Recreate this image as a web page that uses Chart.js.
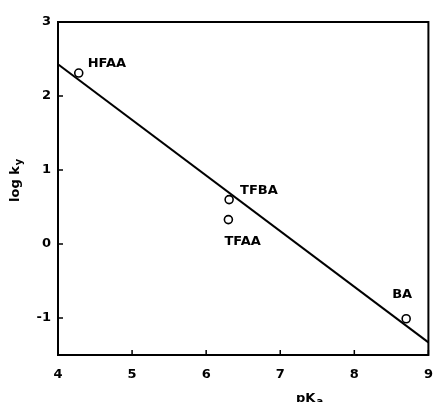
<!DOCTYPE html>
<html><head><meta charset="utf-8">
<script src="https://cdn.jsdelivr.net/npm/chart.js@4"></script>
<style>html,body{margin:0;padding:0;background:#fff}#wrap{width:434px;height:402px}</style>
</head><body><div id="wrap"><canvas id="c" width="434" height="402"></canvas></div>
<script>
const compounds = ['HFAA', 'TFBA', 'TFAA', 'BA'];
const pKa = [4.28, 6.31, 6.30, 8.70];
const logKy = [2.31, 0.60, 0.33, -1.01];
const fitX = [4, 9];
const fitY = [2.43, -1.33];
const xTicks = [4, 5, 6, 7, 8, 9];
const yTicks = [-1, 0, 1, 2, 3];
const labelOffsets = [[9, -9], [11, -9], [-4, 22], [-14, -24]];
const FONT = 'bold 13px "DejaVu Sans", sans-serif';

const framePlugin = {
  id: 'frame',
  afterDatasetsDraw(chart) {
    const {ctx, chartArea: a, scales: {x, y}} = chart;
    ctx.save();
    ctx.strokeStyle = '#000';
    ctx.lineWidth = 2;
    ctx.strokeRect(a.left, a.top, a.right - a.left, a.bottom - a.top);
    ctx.lineWidth = 1.5;
    ctx.beginPath();
    xTicks.forEach(v => { const px = x.getPixelForValue(v); ctx.moveTo(px, a.bottom); ctx.lineTo(px, a.bottom - 5); });
    yTicks.forEach(v => { const py = y.getPixelForValue(v); ctx.moveTo(a.left, py); ctx.lineTo(a.left + 5, py); });
    ctx.stroke();
    ctx.fillStyle = '#000';
    ctx.font = FONT;
    ctx.textAlign = 'center';
    ctx.textBaseline = 'middle';
    xTicks.forEach(v => { ctx.fillText(String(v), x.getPixelForValue(v), a.bottom + 20); });
    ctx.textAlign = 'left';
    const meta = chart.getDatasetMeta(1);
    meta.data.forEach((pt, i) => {
      ctx.fillText(compounds[i], pt.x + labelOffsets[i][0], pt.y + labelOffsets[i][1]);
    });
    ctx.textBaseline = 'alphabetic';
    ctx.font = FONT;
    let tx = 296, ty = 402;
    ctx.fillText('pK', tx, ty);
    let w = ctx.measureText('pK').width;
    ctx.font = 'bold 10px "DejaVu Sans", sans-serif';
    ctx.fillText('a', tx + w + 1, ty + 3);
    ctx.translate(19, 202);
    ctx.rotate(-Math.PI / 2);
    ctx.font = FONT;
    ctx.fillText('log k', 0, 0);
    w = ctx.measureText('log k').width;
    ctx.font = 'bold 10px "DejaVu Sans", sans-serif';
    ctx.fillText('y', w + 1, 3);
    ctx.restore();
  }
};

new Chart(document.getElementById('c'), {
  type: 'scatter',
  data: {
    datasets: [
      {
        type: 'line',
        data: fitX.map((v, i) => ({x: v, y: fitY[i]})),
        borderColor: '#000', borderWidth: 2, pointRadius: 0, fill: false
      },
      {
        data: pKa.map((v, i) => ({x: v, y: logKy[i]})),
        pointStyle: 'circle', pointRadius: 4, pointBorderWidth: 1.6,
        pointBackgroundColor: 'rgba(255,255,255,0)', pointBorderColor: '#000'
      }
    ]
  },
  options: {
    responsive: false, animation: false,
    layout: {padding: {top: 22, right: 3, left: 0, bottom: 0}},
    plugins: {legend: {display: false}, tooltip: {enabled: false}},
    scales: {
      x: {
        type: 'linear', min: 4, max: 9,
        afterBuildTicks: s => { s.ticks = xTicks.map(v => ({value: v})); },
        afterFit: s => { s.height = 47; },
        grid: {display: false, drawTicks: false},
        border: {display: false},
        ticks: {display: false}
      },
      y: {
        type: 'linear', min: -1.5, max: 3,
        afterBuildTicks: s => { s.ticks = yTicks.map(v => ({value: v})); },
        afterFit: s => { s.width = 58; },
        grid: {display: false, drawTicks: false},
        border: {display: false},
        ticks: {color: '#000', font: {family: '"DejaVu Sans", sans-serif', size: 13, weight: 'bold'}, padding: 7}
      }
    }
  },
  plugins: [framePlugin]
});
</script></body></html>
